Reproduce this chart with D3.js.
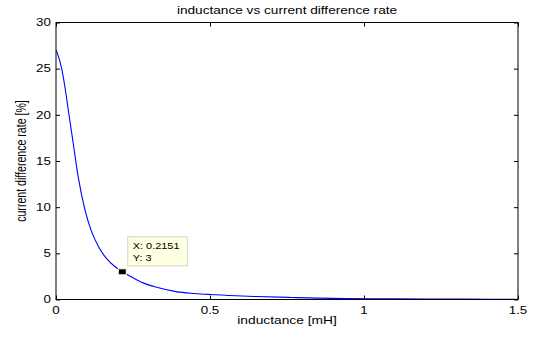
<!DOCTYPE html>
<html><head><meta charset="utf-8">
<script src="https://cdn.jsdelivr.net/npm/d3@7"></script>
<style>
html,body{margin:0;padding:0;background:#fff;}
svg text{font-family:"Liberation Sans",Arial,sans-serif;fill:#000;}
</style></head>
<body>
<svg id="chart" width="537" height="337"></svg>
<script>
// ---- data ----
const inductance = [0, 0.005, 0.0185, 0.03, 0.040, 0.056, 0.072, 0.094, 0.115, 0.14, 0.165, 0.19, 0.2151, 0.25, 0.283, 0.33, 0.39, 0.45, 0.5, 0.586, 0.65, 0.763, 0.85, 0.94, 1.1, 1.33, 1.5];
const diffRate   = [27.0, 26.6, 25.0, 22.8, 20.5, 16.9, 13.3, 9.7, 7.4, 5.6, 4.4, 3.6, 3.0, 2.35, 1.8, 1.3, 0.85, 0.65, 0.54, 0.40, 0.32, 0.22, 0.15, 0.10, 0.07, 0.04, 0.02];
const xTicks = [0, 0.5, 1, 1.5];
const xTickLabels = ["0", "0.5", "1", "1.5"];
const yTicks = [0, 5, 10, 15, 20, 25, 30];
const yTickLabels = ["0", "5", "10", "15", "20", "25", "30"];
const tipX = [0.2151];
const tipY = [3];
const titleText = "inductance vs current difference rate";
const xLabelText = "inductance [mH]";
const yLabelText = "current difference rate [%]";

const SX = 1.3; // horizontal stretch of the reference image
const svg = d3.select("#chart");
const L = 56, R = 518, T = 22.5, B = 299.5;
const x = d3.scaleLinear().domain([0, 1.5]).range([L, R]);
const y = d3.scaleLinear().domain([0, 30]).range([B, T]);

function label(g, px, py, txt, size, anchor, rot) {
  g.append("text")
    .attr("transform", `translate(${px},${py}) scale(${SX},1)` + (rot ? ` rotate(${rot})` : ""))
    .attr("text-anchor", anchor)
    .style("font-size", size + "px")
    .text(txt);
}

// curve
const line = d3.line().x((d, i) => x(inductance[i])).y((d, i) => y(diffRate[i])).curve(d3.curveMonotoneX);
svg.append("path").datum(diffRate).attr("d", line)
  .attr("fill", "none").attr("stroke", "#0000ff").attr("stroke-width", 1.1);

// axes (ticks inward, box)
const tk = 4;
const ax = svg.append("g");
ax.append("g").attr("transform", `translate(0,${B})`)
  .call(d3.axisBottom(x).tickValues(xTicks).tickSize(-tk).tickFormat(""));
ax.append("g").attr("transform", `translate(0,${T})`)
  .call(d3.axisTop(x).tickValues(xTicks).tickSize(-tk).tickFormat(""));
ax.append("g").attr("transform", `translate(${L},0)`)
  .call(d3.axisLeft(y).tickValues(yTicks).tickSize(-tk).tickFormat(""));
ax.append("g").attr("transform", `translate(${R},0)`)
  .call(d3.axisRight(y).tickValues(yTicks).tickSize(-tk).tickFormat(""));
ax.selectAll(".tick line").attr("stroke", "#000").attr("stroke-width", 1);
ax.selectAll("path.domain").attr("d", null);
ax.append("rect").attr("x", L).attr("y", T).attr("width", R - L).attr("height", B - T)
  .attr("fill", "none").attr("stroke", "#000").attr("stroke-width", 1);

// tick labels
const lg = svg.append("g");
xTicks.forEach((v, i) => label(lg, x(v), 313.5, xTickLabels[i], 10.3, "middle"));
yTicks.forEach((v, i) => label(lg, 51, y(v) + 3.7, yTickLabels[i], 10.3, "end"));

// titles
label(lg, (L + R) / 2, 14, titleText, 10.5, "middle");
label(lg, (L + R) / 2, 324.3, xLabelText, 10.6, "middle");
label(lg, 26, (T + B) / 2, yLabelText, 10.6, "middle", -90);

// data tip
const tg = svg.append("g");
const mx = x(tipX[0]), my = y(tipY[0]);
tg.append("rect").attr("x", mx + 5.5).attr("y", my - 35).attr("width", 59.5).attr("height", 29)
  .attr("fill", "#ffffe1").attr("stroke", "#d4d4c4").attr("stroke-width", 1);
tg.append("rect").attr("x", mx - 4).attr("y", my - 3).attr("width", 8).attr("height", 6)
  .attr("fill", "#000").attr("stroke", "#ffffd0").attr("stroke-width", 1);
label(tg, mx + 10.5, my - 22.7, "X: " + tipX[0], 8.4, "start");
label(tg, mx + 10.5, my - 10.7, "Y: " + tipY[0], 8.4, "start");
</script>
</body></html>
